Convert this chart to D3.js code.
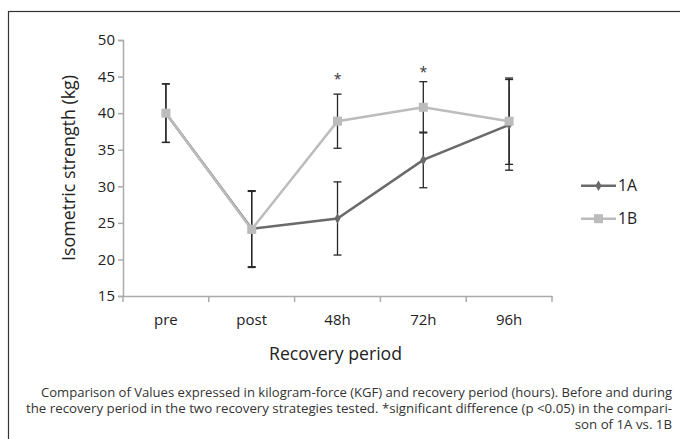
<!DOCTYPE html>
<html><head><meta charset="utf-8">
<script src="https://cdn.jsdelivr.net/npm/d3@7"></script>
<style>
html,body{margin:0;padding:0;background:#fff;}
svg{display:block;font-family:"Open Sans","Noto Sans",sans-serif;}
</style></head>
<body>
<svg id="chart" width="680" height="439"></svg>
<script>
// ---- data ----
const categories = ["pre", "post", "48h", "72h", "96h"];
const mean1A = [40.0, 24.2, 25.6, 33.6, 38.4];
const sd1A   = [4.0, 5.2, 5.0, 3.8, 6.2];
const mean1B = [40.0, 24.1, 38.9, 40.8, 38.9];
const sd1B   = [4.0, 5.2, 3.7, 3.5, 5.9];
const yTicks = [15, 20, 25, 30, 35, 40, 45, 50];
const sigCats = ["48h", "72h"];
const sigLevel = [44.9, 45.9];
const seriesNames = ["1A", "1B"];
const yTitle = "Isometric strength (kg)";
const xTitle = "Recovery period";
const captionLines = [
  "Comparison of Values expressed in kilogram-force (KGF) and recovery period (hours). Before and during",
  "the recovery period in the two recovery strategies tested. *significant difference (p <0.05) in the compari-",
  "son of 1A vs. 1B"
];

// ---- layout ----
const svg = d3.select("#chart");
const plotL = 123, plotR = 552, plotT = 40, plotB = 296;
const x = d3.scaleBand().domain(categories).range([plotL, plotR]).padding(0);
const y = d3.scaleLinear().domain([15, 50]).range([plotB, plotT]);
const cx = c => x(c) + x.bandwidth() / 2;

// frame
svg.append("rect").attr("x", 8.5).attr("y", 11.5).attr("width", 720).attr("height", 500)
  .attr("fill", "none").attr("stroke", "#333").attr("stroke-width", 1.2);

const axisColor = "#ababab";
// y axis
const ya = svg.append("g").attr("transform", `translate(${plotL},0)`)
  .call(d3.axisLeft(y).tickValues(yTicks).tickSize(5).tickPadding(3));
ya.selectAll("path").attr("stroke", axisColor).attr("stroke-width", 1.5);
ya.selectAll("line").attr("stroke", axisColor).attr("stroke-width", 1.5);
ya.selectAll("text").attr("font-size", 15).attr("fill", "#222")
  .attr("font-family", "'Open Sans',sans-serif");

// x axis (labels centered in bands, ticks on band edges)
const xa = svg.append("g").attr("transform", `translate(0,${plotB})`)
  .call(d3.axisBottom(x).tickSize(0).tickPadding(18).tickSizeOuter(0));
xa.select("path").attr("stroke", axisColor).attr("stroke-width", 1.5);
xa.selectAll("text").attr("font-size", 15).attr("fill", "#222")
  .attr("font-family", "'Open Sans',sans-serif");
const edges = categories.map(c => x(c)).concat([x(categories[categories.length - 1]) + x.bandwidth()]);
xa.selectAll(".edge").data(edges).enter().append("line")
  .attr("x1", d => d).attr("x2", d => d).attr("y1", 0).attr("y2", 6)
  .attr("stroke", axisColor).attr("stroke-width", 1.5);

// axis titles
svg.append("text").attr("transform", `translate(68,${(plotT + plotB) / 2}) rotate(-90)`)
  .attr("text-anchor", "middle").attr("dominant-baseline", "central")
  .attr("font-size", 18).attr("fill", "#222")
  .attr("textLength", 186).attr("lengthAdjust", "spacingAndGlyphs").text(yTitle);
svg.append("text").attr("x", (plotL + plotR) / 2 - 2).attr("y", 360)
  .attr("text-anchor", "middle").attr("font-size", 19).attr("fill", "#222")
  .attr("textLength", 133).attr("lengthAdjust", "spacingAndGlyphs").text(xTitle);

// error bars
const errColor = "#262626";
function errorBars(means, sds) {
  const g = svg.append("g").attr("stroke", errColor).attr("stroke-width", 1.3);
  categories.forEach((c, i) => {
    const hi = y(means[i] + sds[i]), lo = y(means[i] - sds[i]), xx = cx(c);
    g.append("line").attr("x1", xx).attr("x2", xx).attr("y1", hi).attr("y2", lo);
    g.append("line").attr("x1", xx - 4).attr("x2", xx + 4).attr("y1", hi).attr("y2", hi);
    g.append("line").attr("x1", xx - 4).attr("x2", xx + 4).attr("y1", lo).attr("y2", lo);
  });
}
errorBars(mean1A, sd1A);
errorBars(mean1B, sd1B);

const colA = "#6a6a6a", colB = "#bcbcbc";
const line = d3.line().x((d, i) => cx(categories[i])).y(d => y(d));

// series 1A
svg.append("path").datum(mean1A).attr("d", line).attr("fill", "none")
  .attr("stroke", colA).attr("stroke-width", 2.5);
svg.selectAll(".mA").data(mean1A).enter().append("path")
  .attr("d", d3.symbol().type(d3.symbolDiamond).size(32))
  .attr("transform", (d, i) => `translate(${cx(categories[i])},${y(d)})`)
  .attr("fill", colA);

// series 1B
svg.append("path").datum(mean1B).attr("d", line).attr("fill", "none")
  .attr("stroke", colB).attr("stroke-width", 2.5);
svg.selectAll(".mB").data(mean1B).enter().append("rect")
  .attr("x", (d, i) => cx(categories[i]) - 4.5).attr("y", d => y(d) - 4.5)
  .attr("width", 9).attr("height", 9).attr("fill", colB);

// significance asterisks
svg.selectAll(".sig").data(sigCats).enter().append("text")
  .attr("x", d => cx(d)).attr("y", (d, i) => y(sigLevel[i]) + 7)
  .attr("text-anchor", "middle").attr("font-size", 14).attr("fill", "#333").text("*");

// legend
const legY = [185.7, 218.7];
seriesNames.forEach((n, i) => {
  const g = svg.append("g");
  g.append("line").attr("x1", 581).attr("x2", 616).attr("y1", legY[i]).attr("y2", legY[i])
    .attr("stroke", i === 0 ? colA : colB).attr("stroke-width", 2.5);
  if (i === 0) {
    g.append("path").attr("d", d3.symbol().type(d3.symbolDiamond).size(32)())
      .attr("transform", `translate(598.5,${legY[i]})`).attr("fill", colA);
  } else {
    g.append("rect").attr("x", 594).attr("y", legY[i] - 4.5).attr("width", 9).attr("height", 9).attr("fill", colB);
  }
  g.append("text").attr("x", 618).attr("y", legY[i] + 5.5).attr("font-size", 16).attr("fill", "#222")
    .attr("textLength", 19).attr("lengthAdjust", "spacingAndGlyphs").text(n);
});

// caption (right aligned, condensed to fit the reference line widths)
const capBase = [397, 413, 429];
const capRight = 672, lineStarts = [41, 26];
const capTexts = captionLines.map((t, i) =>
  svg.append("text").attr("x", capRight).attr("y", capBase[i]).attr("text-anchor", "end")
    .attr("font-size", 12).attr("fill", "#333").text(t));
const ratio = (capRight - lineStarts[1]) / capTexts[1].node().getComputedTextLength();
capTexts.forEach((tx, i) => {
  const w = i < lineStarts.length ? capRight - lineStarts[i] : tx.node().getComputedTextLength() * ratio;
  tx.attr("textLength", w).attr("lengthAdjust", "spacingAndGlyphs");
});
</script>
</body></html>
